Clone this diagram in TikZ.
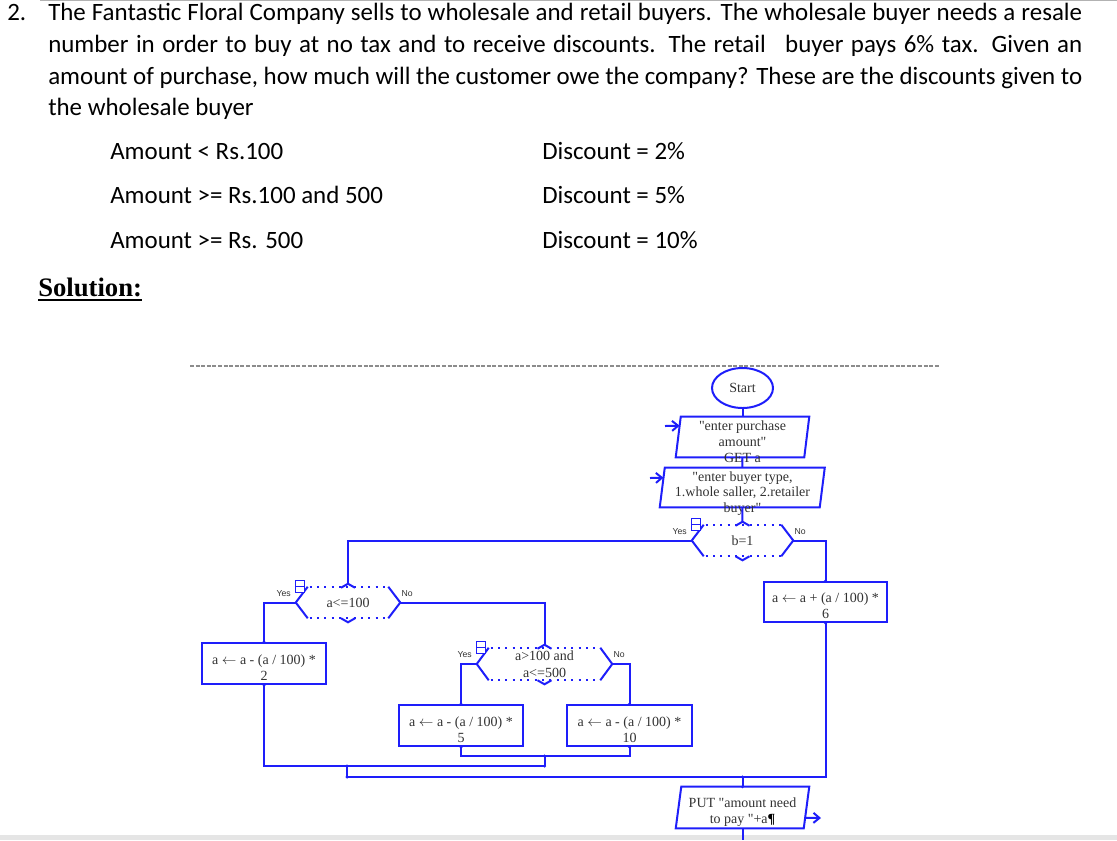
\documentclass[tikz,border=0pt]{standalone}
\usepackage{fontspec}
\usetikzlibrary{calc,arrows.meta,shapes.geometric}
\newfontfamily\hfont{Carlito}
\newfontfamily\tfont{Liberation Serif}
\newfontfamily\sfont{Liberation Sans}
\definecolor{fcblue}{RGB}{30,30,250}
\definecolor{fctext}{RGB}{50,50,50}
\newcommand\lar{\ensuremath{\leftarrow}}
\tikzset{
  hl/.style={font=\hfont\fontsize{18.7}{22}\selectfont, anchor=base west, inner sep=0pt, text=black},
  ln/.style={draw=fcblue, line width=1.5pt},
  dotln/.style={draw=fcblue, line width=1.5pt, dash pattern=on 1.5pt off 4pt},
  icon/.style={draw=fcblue, line width=1.1pt},
  ftxt/.style={font=\tfont\fontsize{10.5}{12}\selectfont, text=fctext, align=center, inner sep=0pt},
  yn/.style={font=\sfont\fontsize{6.5}{7}\selectfont, text=fctext, inner sep=0pt},
  shp/.style={draw=none, inner sep=0pt},
  pbox/.style={draw=fcblue, line width=1.5pt, inner sep=0pt},
  arr/.style={draw=fcblue, line width=1.5pt, -{Straight Barb[length=4.5pt,width=7.5pt]}},
}
\newcommand\fcpara[2]{%
  \draw[ln] ($(#1.north west)+(#2,0)$) -- ($(#1.north east)+(#2,0)$) -- ($(#1.south east)+(-#2,0)$) -- ($(#1.south west)+(-#2,0)$) -- cycle;}
\newcommand\fcdec[1]{%
  \draw[ln] ($(#1.north west)+(12,0)$) -- (#1.west) -- ($(#1.south west)+(12,0)$);
  \draw[ln] ($(#1.north east)+(-12,0)$) -- (#1.east) -- ($(#1.south east)+(-12,0)$);
  \draw[dotln] ($(#1.north west)+(14,0)$) -- ($(#1.north east)+(-12,0)$);
  \draw[dotln] ($(#1.south west)+(14,0)$) -- ($(#1.south east)+(-12,0)$);
  \draw[ln] ($(#1.north)+(-7,1)$) -- ($(#1.north)+(0,-3)$) -- ($(#1.north)+(7,1)$);
  \draw[ln] ($(#1.south)+(-7,0)$) -- ($(#1.south)+(0,4)$) -- ($(#1.south)+(7,0)$);
  \fill[white] ($(#1.north west)+(0,-6)$) rectangle ($(#1.north west)+(9,6)$);
  \draw[icon] ($(#1.north west)+(0,-6)$) rectangle ($(#1.north west)+(9,6)$);
  \draw[icon] ($(#1.north west)+(0,0)$) -- ($(#1.north west)+(9,0)$);}
\begin{document}
\begin{tikzpicture}[x=0.75pt,y=-0.75pt]
\useasboundingbox (0,0) rectangle (1117,840);
\fill[black!10] (0,835) rectangle (1117,840);
\draw[black!30, line width=0.75pt] (40,0.5) -- (1117,0.5);

% problem text
\node[hl] (num) at (7,20) {2.};
\node[hl] (l1) at (48,20) {\makebox[775.5pt][s]{The Fantastic Floral Company sells to wholesale and retail buyers. The wholesale buyer needs a resale}};
\node[hl] (l2) at (48,52) {\makebox[775.5pt][s]{number in order to buy at no tax and to receive discounts. The retail\hspace{9pt} buyer pays 6\% tax. Given an}};
\node[hl] (l3) at (48,84) {\makebox[775.5pt][s]{amount of purchase, how much will the customer owe the company? These are the discounts given to}};
\node[hl] (l4) at (48,115) {the wholesale buyer};
\node[hl] (r1a) at (110,159) {Amount < Rs.100};
\node[hl] (r1b) at (542,159) {Discount = 2\%};
\node[hl] (r2a) at (110,203) {Amount >= Rs.100 and 500};
\node[hl] (r2b) at (542,203) {Discount = 5\%};
\node[hl] (r3a) at (110,248) {Amount >= Rs. 500};
\node[hl] (r3b) at (542,248) {Discount = 10\%};
\node[anchor=base west, inner sep=0pt, font=\tfont\bfseries\fontsize{20}{24}\selectfont] (sol) at (38,296) {Solution:};
\draw[line width=1.6pt] ($(sol.base west)+(0,4)$) -- ($(sol.base east)+(0,4)$);

\draw[black!45, line width=0.8pt, dash pattern=on 3pt off 1.2pt] (190,366) -- (940,366);

% flowchart nodes
\node[draw=fcblue, line width=1.5pt, ellipse, minimum width=45.75pt, minimum height=30pt, ftxt] (start) at (742.5,388) {Start};
\node[shp, minimum width=96pt, minimum height=30pt] (p1) at (742.5,437) {};
\fcpara{p1}{2.5}
\node[ftxt] (p1t) at (742.5,441.5) {"enter purchase\\amount"\\GET a};
\node[shp, minimum width=119.6pt, minimum height=29.25pt] (p2) at (742.25,487.5) {};
\fcpara{p2}{2.5}
\node[ftxt, font=\tfont\fontsize{10.5}{11.6}\selectfont] (p2t) at (742.5,493.5) {"enter buyer type,\\1.whole saller, 2.retailer\\buyer"};

\node[shp, ftxt, minimum width=75.75pt, minimum height=23.25pt] (d1) at (742.5,540.5) {b=1};
\fcdec{d1}
\node[yn] (d1y) at ($(d1.west)+(-12,-9)$) {Yes};
\node[yn] (d1n) at ($(d1.east)+(7,-9)$) {No};

\node[shp, ftxt, minimum width=78pt, minimum height=23.25pt] (d2) at (348,602.5) {a<=100};
\fcdec{d2}
\node[yn] (d2y) at ($(d2.west)+(-12,-9)$) {Yes};
\node[yn] (d2n) at ($(d2.east)+(7,-9)$) {No};

\node[shp, ftxt, minimum width=101.25pt, minimum height=24pt] (d3) at (544.5,664) {a>100 and\\[0.8pt]a<=500};
\fcdec{d3}
\node[yn] (d3y) at ($(d3.west)+(-12,-9)$) {Yes};
\node[yn] (d3n) at ($(d3.east)+(7,-9)$) {No};

\node[pbox, minimum width=93pt, minimum height=30.75pt] (b2) at (264,663.5) {};
\node[ftxt] (b2t) at (264,668) {a \lar{} a - (a / 100) *\\2};
\node[pbox, minimum width=93pt, minimum height=30.75pt] (b5) at (461,725.5) {};
\node[ftxt] (b5t) at (461,730) {a \lar{} a - (a / 100) *\\5};
\node[pbox, minimum width=93.75pt, minimum height=30.75pt] (b10) at (629.5,725.5) {};
\node[ftxt] (b10t) at (629.5,730) {a \lar{} a - (a / 100) *\\10};
\node[pbox, minimum width=92.25pt, minimum height=30pt] (b6) at (825.5,602) {};
\node[ftxt] (b6t) at (825.5,606) {a \lar{} a + (a / 100) *\\6};

\node[shp, minimum width=95.6pt, minimum height=30.75pt] (p3) at (742.5,807.5) {};
\fcpara{p3}{2.75}
\node[ftxt] (p3t) at (742.5,812) {PUT "amount need\\to pay "+a{\color{black}\bfseries ¶}};

% junctions
\coordinate (j1) at (544.5,756);
\coordinate (j2) at (544.5,766);
\coordinate (j3) at (347,766);
\coordinate (j4) at (347,777);
\coordinate (j5) at (742.5,777);
\coordinate (jend) at (742.5,840);
\coordinate (in1) at (665,426);
\coordinate (in2) at (650,478);
\coordinate (out1) at (821,818);

% connectors
\draw[ln] (start.south) -- (p1.north);
\draw[ln] (p1.south) -- (p2.north);
\draw[ln] (p2.south) -- ($(d1.north)+(0,-3)$);
\draw[ln] (d1.west) -| ($(d2.north)+(0,-3)$);
\draw[ln] (d1.east) -| (b6.north);
\draw[ln] (d2.west) -| (b2.north);
\draw[ln] (d2.east) -| ($(d3.north)+(0,-3)$);
\draw[ln] (d3.west) -| (b5.north);
\draw[ln] (d3.east) -| (b10.north);
\draw[ln] (b5.south) |- (j1) -| (b10.south);
\draw[ln] (j1) -- (j2);
\draw[ln] (b2.south) |- (j2);
\draw[ln] (j3) -- (j4) -| (b6.south);
\draw[ln] (j5) -- (p3.north);
\draw[ln] (p3.south) -- (jend);
\draw[arr] (in1) -- ($(p1.north west)+(1.4,9)$);
\draw[arr] (in2) -- ($(p2.north west)+(1.2,10)$);
\draw[arr] ($(p3.north east)+(-1.5,31)$) -- (out1);

\foreach \q in {b2.north,b2.south,b5.north,b5.south,b10.north,b10.south,b6.north,b6.south,j1,j2,j3,j4,j5,p3.north}
  \fill[fcblue] (\q) circle (1.3pt);
\end{tikzpicture}
\end{document}
